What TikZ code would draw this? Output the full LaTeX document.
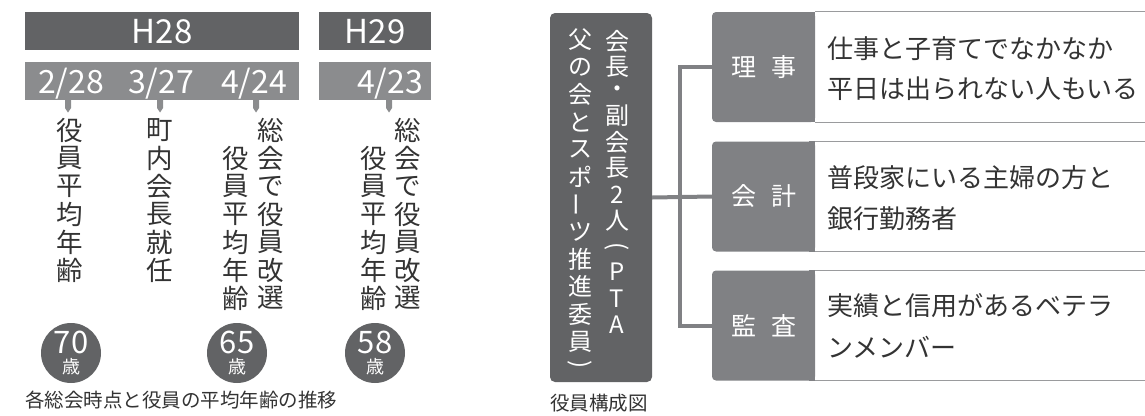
\documentclass[tikz,border=0pt]{standalone}
\usepackage{fontspec}
\setmainfont{Noto Sans CJK JP}
\usetikzlibrary{calc}
\definecolor{dk}{HTML}{626365}
\definecolor{md}{HTML}{8B8C8E}
\definecolor{lb}{HTML}{808184}
\definecolor{tx}{HTML}{333333}
\definecolor{bd}{HTML}{9A9B9D}
\newcommand\vbarch{\rotatebox{90}{ー}}
\newcommand\vlparen{\rotatebox{-90}{(}}
\newcommand\vrparen{\rotatebox{-90}{)}}
\begin{document}
\begin{tikzpicture}[x=1pt,y=-1pt,
  vch/.style={inner sep=0pt, text=tx, font=\fontsize{26.5}{26.5}\selectfont},
  bch/.style={inner sep=0pt, text=white, font=\fontsize{24}{24}\selectfont},
  yearbar/.style={fill=dk, inner sep=0pt, anchor=north west, minimum height=38pt, text=white, font=\fontsize{33}{33}\selectfont},
  datebar/.style={fill=md, inner sep=0pt, anchor=north west, minimum height=38pt},
  datetxt/.style={inner sep=0pt, text=white, text depth=0pt, font=\fontsize{32}{32}\selectfont},
  agec/.style={circle, fill=dk, minimum size=60pt, inner sep=0pt},
  agenum/.style={inner sep=0pt, text=white, text depth=0pt, font=\fontsize{31}{31}\selectfont},
  agesai/.style={inner sep=0pt, text=white, font=\fontsize{18}{18}\selectfont},
  labbox/.style={fill=lb, rounded corners=4pt, minimum width=103pt, minimum height=110pt, inner sep=0pt, text=white, font=\fontsize{25}{25}\selectfont},
  desc/.style={inner sep=0pt, anchor=base west, text=tx, font=\fontsize{26}{26}\selectfont},
  capt/.style={inner sep=0pt, anchor=west, text=tx, font=\fontsize{19.5}{19.5}\selectfont},
  conn/.style={draw=lb, line width=4pt},
  bline/.style={draw=bd, line width=1.3pt}
]
\useasboundingbox (0,0) rectangle (1145,415);

% ---------- left: timeline ----------
\node[yearbar, minimum width=274pt] (h28) at (25,12) {H28};
\node[yearbar, minimum width=112pt] (h29) at (319,12) {H29};
\node[datebar, minimum width=274pt] (d28) at (25,62) {};
\node[datebar, minimum width=112pt] (d29) at (319,62) {};
\node[datetxt] (t1) at (71,81) {2/28};
\node[datetxt] (t2) at (161,81) {3/27};
\node[datetxt] (t3) at (254,81) {4/24};
\node[datetxt] (t4) at (390,81) {4/23};
\foreach \x in {68,160,256,389}{
  \fill[md] (\x-3,99) -- (\x+3,99) -- (\x+3,108) -- (\x,112.5) -- (\x-3,108) -- cycle;
}
\foreach \c [count=\i from 0] in {役,員,平,均,年,齢}
  \node[vch] (ca\i) at (70,130+28*\i) {\c};
\foreach \c [count=\i from 0] in {町,内,会,長,就,任}
  \node[vch] (cb\i) at (160,130+28*\i) {\c};
\foreach \c [count=\i from 0] in {総,会,で,役,員,改,選}
  \node[vch] (cc\i) at (271,130+28*\i) {\c};
\foreach \c [count=\i from 0] in {役,員,平,均,年,齢}
  \node[vch] (cd\i) at (236,158+28*\i) {\c};
\foreach \c [count=\i from 0] in {総,会,で,役,員,改,選}
  \node[vch] (ce\i) at (408,130+28*\i) {\c};
\foreach \c [count=\i from 0] in {役,員,平,均,年,齢}
  \node[vch] (cf\i) at (374,158+28*\i) {\c};

\node[agec] (g1) at (71,353) {};
\node[agec] (g2) at (237,353) {};
\node[agec] (g3) at (375,353) {};
\node[agenum] (n1) at (71,342) {70};
\node[agenum] (n2) at (237,342) {65};
\node[agenum] (n3) at (375,342) {58};
\node[agesai] (s1) at (71,367) {歳};
\node[agesai] (s2) at (237,367) {歳};
\node[agesai] (s3) at (375,367) {歳};

\node[capt] (cap1) at (25,400) {各総会時点と役員の平均年齢の推移};

% ---------- right: organisation ----------
\node[fill=dk, rounded corners=5pt, minimum width=102pt, minimum height=369pt, inner sep=0pt] (boss) at (601,197.5) {};
\foreach \c/\y [count=\i from 0] in {会/41,長/67,・/92,副/116,会/142,長/168,2/195,人/221,\vlparen/247,P/272,T/299,A/325}
  \node[bch] (br\i) at (617,\y) {\c};
\foreach \c/\y [count=\i from 0] in {父/40,の/67.4,会/94.8,と/122.2,ス/149.6,ポ/177,\vbarch/204.4,ツ/231.8,推/259.2,進/286.6,委/314,員/341.4,\vrparen/365}
  \node[bch] (bl\i) at (580,\y) {\c};

\node[labbox] (l1) at (763.5,67) {理\hspace{15pt}事};
\node[labbox] (l2) at (763.5,196.5) {会\hspace{15pt}計};
\node[labbox] (l3) at (763.5,325.5) {監\hspace{15pt}査};
\foreach \l in {l1,l2,l3}{
  \fill[lb] (\l.north east) ++(-6,0) rectangle (\l.south east);
  \draw[bline] (\l.north east) -- ++(332,0);
  \draw[bline] (\l.south east) -- ++(332,0);
}
\coordinate (jn) at (680,196.5);
\draw[conn] (boss.east) -- (l2.west);
\draw[conn] (l1.west) -| (jn) |- (l3.west);

\node[desc] (e1a) at (827,58) {仕事と子育てでなかなか};
\node[desc] (e1b) at (827,98) {平日は出られない人もいる};
\node[desc] (e2a) at (827,187) {普段家にいる主婦の方と};
\node[desc] (e2b) at (827,228) {銀行勤務者};
\node[desc] (e3a) at (827,315) {実績と信用があるベテラ};
\node[desc] (e3b) at (827,357) {ンメンバー};

\node[capt] (cap2) at (550,403) {役員構成図};
\end{tikzpicture}
\end{document}
